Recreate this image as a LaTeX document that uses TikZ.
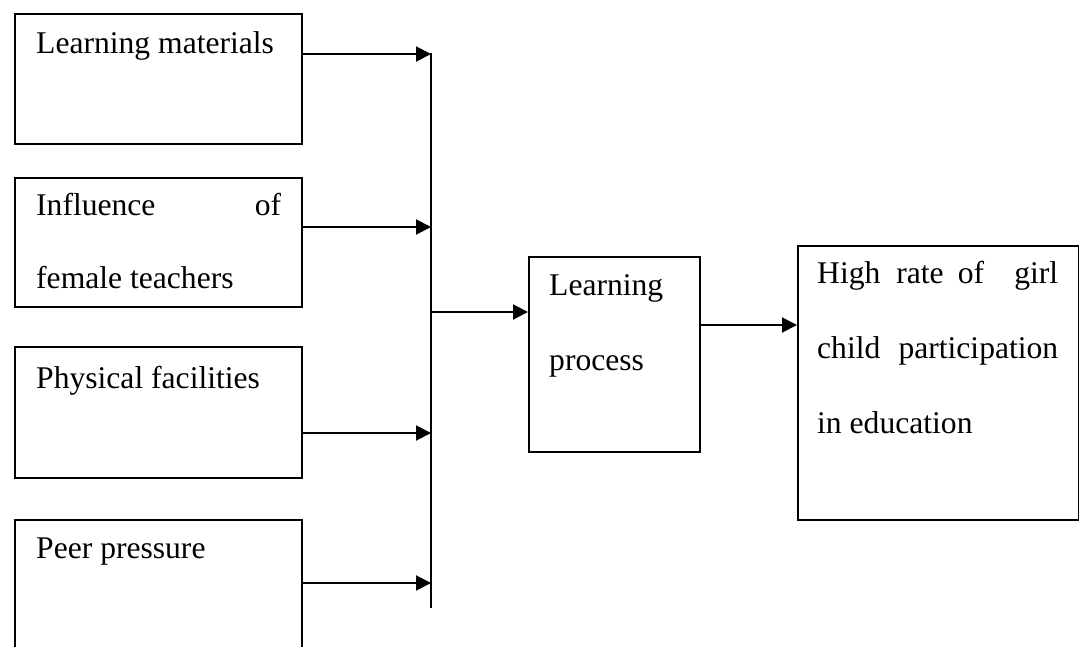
\documentclass[tikz,border=0pt]{standalone}
\usepackage{fontspec}
\setmainfont{Liberation Serif}
\usetikzlibrary{arrows.meta}
\begin{document}
\begin{tikzpicture}[x=1pt,y=-1pt,
  box/.style={draw,line width=2pt,rectangle,inner sep=0pt,anchor=north west},
  txt/.style={anchor=base west,inner sep=0pt,font=\fontsize{31.6}{38}\selectfont},
  conn/.style={line width=2pt},
  arr/.style={line width=2pt,-{Triangle[length=15pt,width=15pt]}}]
\useasboundingbox (0,0) rectangle (1079,646);
\clip (0,0) rectangle (1079,646);
% input boxes
\node[box,minimum width=287pt,minimum height=130pt] (b1) at (14,13) {};
\node[box,minimum width=287pt,minimum height=129pt] (b2) at (14,177) {};
\node[box,minimum width=287pt,minimum height=131pt] (b3) at (14,346) {};
\node[box,minimum width=287pt,minimum height=130pt] (b4) at (14,519) {};
% middle and output boxes
\node[box,minimum width=171pt,minimum height=195pt] (lp) at (528,256) {};
\node[box,minimum width=281pt,minimum height=274pt] (out) at (797,245) {};
% texts
\node[txt] (t1) at (36,53) {Learning materials};
\node[txt] (t2a) at (36,215) {\makebox[245pt][l]{Influence\hfill of}};
\node[txt] (t2b) at (36,288) {female teachers};
\node[txt] (t3) at (36,388) {Physical facilities};
\node[txt] (t4) at (36,558) {Peer pressure};
\node[txt] (t5a) at (549,295) {Learning};
\node[txt] (t5b) at (549,370) {process};
\node[txt] (t6a) at (817,283) {\makebox[241pt][l]{High\hspace{16pt}rate\hspace{14pt}of\hfill girl}};
\node[txt] (t6b) at (817,358) {\makebox[241pt][l]{child\hfill participation}};
\node[txt] (t6c) at (817,433) {in education};
% bus line
\coordinate (bt) at (431,53);
\coordinate (bb) at (431,608);
\draw[conn] (bt) -- (bb);
% arrows into bus
\path (b1.north east) ++(0,41) coordinate (a1);
\path (b2.north east) ++(0,50) coordinate (a2);
\path (b3.north east) ++(0,87) coordinate (a3);
\path (b4.north east) ++(0,64) coordinate (a4);
\draw[arr] (a1) -- (a1 -| bt);
\draw[arr] (a2) -- (a2 -| bt);
\draw[arr] (a3) -- (a3 -| bt);
\draw[arr] (a4) -- (a4 -| bt);
% bus to learning process
\path (lp.north west) ++(0,56) coordinate (a5);
\draw[arr] (a5 -| bt) -- (a5);
% learning process to output
\path (lp.north east) ++(0,69) coordinate (a6);
\draw[arr] (a6) -- (a6 -| out.west);
\end{tikzpicture}
\end{document}
